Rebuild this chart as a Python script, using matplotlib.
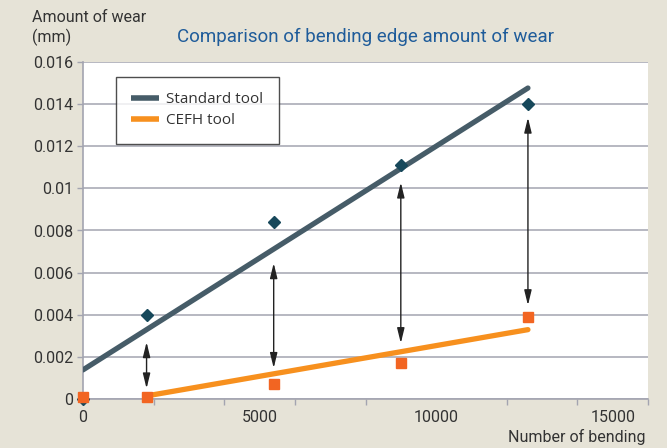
import numpy as np
import matplotlib
matplotlib.use("Agg")
import matplotlib.pyplot as plt
from matplotlib.ticker import MultipleLocator, FixedLocator

# ---- data ----
bend_x = [0, 1800, 5400, 9000, 12600]
standard_wear = [0.0, 0.0040, 0.0084, 0.0111, 0.0140]
cefh_wear = [0.0001, 0.0001, 0.0007, 0.0017, 0.0039]
arrow_x = [1800, 5400, 9000, 12600]
arrow_top = [0.0027, 0.00645, 0.01028, 0.01336]
arrow_bottom = [0.0005, 0.00147, 0.00265, 0.00445]
y_ticks = [0, 0.002, 0.004, 0.006, 0.008, 0.01, 0.012, 0.014, 0.016]
y_labels = ["0", "0.002", "0.004", "0.006", "0.008", "0.01", "0.012", "0.014", "0.016"]
x_label_ticks = [0, 5000, 10000, 15000]
series_names = ["Standard tool", "CEFH tool"]

BG = "#e6e3d7"
STD_LINE = "#465c68"
STD_MARK = "#17485b"
CEFH_LINE = "#f7901e"
CEFH_MARK = "#f26522"
GRID = "#a3a4b0"
TXT = "#333333"

plt.rcParams['font.family'] = ['Roboto', 'DejaVu Sans']

fig = plt.figure(figsize=(6.67, 4.48), dpi=100, facecolor=BG)
ax = fig.add_axes([83/667, 1-399/448, (648-83)/667, (399-62)/448])
ax.set_facecolor("white")
ax.set_xlim(0, 16000)
ax.set_ylim(0, 0.016)

# gridlines
ax.set_yticks(y_ticks)
ax.set_yticklabels(y_labels)
ax.yaxis.grid(True, color=GRID, linewidth=1.1)
ax.set_axisbelow(True)

# x ticks: labels every 5000 (no marks), marks every 2000
ax.xaxis.set_major_locator(FixedLocator(x_label_ticks))
ax.xaxis.set_minor_locator(MultipleLocator(2000))
ax.tick_params(axis='x', which='major', length=0, pad=8, labelsize=11.5, labelcolor=TXT)
ax.tick_params(axis='x', which='minor', length=4, width=1, color=GRID, direction='out')
ax.tick_params(axis='y', which='major', length=4, width=1, color=GRID, pad=3, labelsize=11.5, labelcolor=TXT)

for s in ['top', 'right']:
    ax.spines[s].set_visible(False)
for s in ['left', 'bottom']:
    ax.spines[s].set_color(GRID)
    ax.spines[s].set_linewidth(1.2)

# trend lines (linear fits)
bx = np.array(bend_x, dtype=float)
p_std = np.polyfit(bx, standard_wear, 1)
p_cefh = np.polyfit(bx, cefh_wear, 1)
xs_std = np.array([bend_x[0], bend_x[-1]], dtype=float)
xs_cefh = np.array([bend_x[1], bend_x[-1]], dtype=float)
ax.plot(xs_std, np.polyval(p_std, xs_std), color=STD_LINE, lw=3.8,
        solid_capstyle='round', label=series_names[0], zorder=3)
ax.plot(xs_cefh, np.polyval(p_cefh, xs_cefh), color=CEFH_LINE, lw=3.8,
        solid_capstyle='round', label=series_names[1], zorder=3)

# markers
ax.plot(bend_x, standard_wear, linestyle='none', marker='D', ms=6.5,
        color=STD_MARK, clip_on=False, zorder=4)
ax.plot(bend_x, cefh_wear, linestyle='none', marker='s', ms=7,
        color=CEFH_MARK, clip_on=False, zorder=5)

# double arrows
for xa, yt, yb in zip(arrow_x, arrow_top, arrow_bottom):
    ax.annotate("", xy=(xa, yt), xytext=(xa, yb),
                arrowprops=dict(arrowstyle='<|-|>,head_length=0.9,head_width=0.22',
                                color="#222222", lw=1.0, shrinkA=0, shrinkB=0),
                zorder=6)

# legend
leg = ax.legend(loc='upper left', bbox_to_anchor=((116-83)/565, 1-(77-62)/337),
                frameon=True, fancybox=False, edgecolor="#222222",
                fontsize=11, handlelength=1.8, handletextpad=0.5,
                borderpad=1.0, labelspacing=0.4, borderaxespad=0)
leg.get_frame().set_linewidth(1.0)
for t in leg.get_texts():
    t.set_color(TXT)
    t.set_family(['Open Sans', 'DejaVu Sans'])
for h in leg.get_lines():
    h.set_linewidth(4.0)
    h.set_solid_capstyle('butt')

# texts
fig.text(32/667, 1-18/448, "Amount of wear", ha='left', va='center', fontsize=11.5, color=TXT)
fig.text(32/667, 1-37/448, "(mm)", ha='left', va='center', fontsize=11.5, color=TXT)
fig.text(366/667, 1-37/448, "Comparison of bending edge amount of wear",
         ha='center', va='center', fontsize=13.5, color="#1f5c9a")
fig.text(646/667, 1-437/448, "Number of bending", ha='right', va='center', fontsize=11.5, color=TXT)

fig.savefig("out.png", dpi=100, facecolor=BG)
